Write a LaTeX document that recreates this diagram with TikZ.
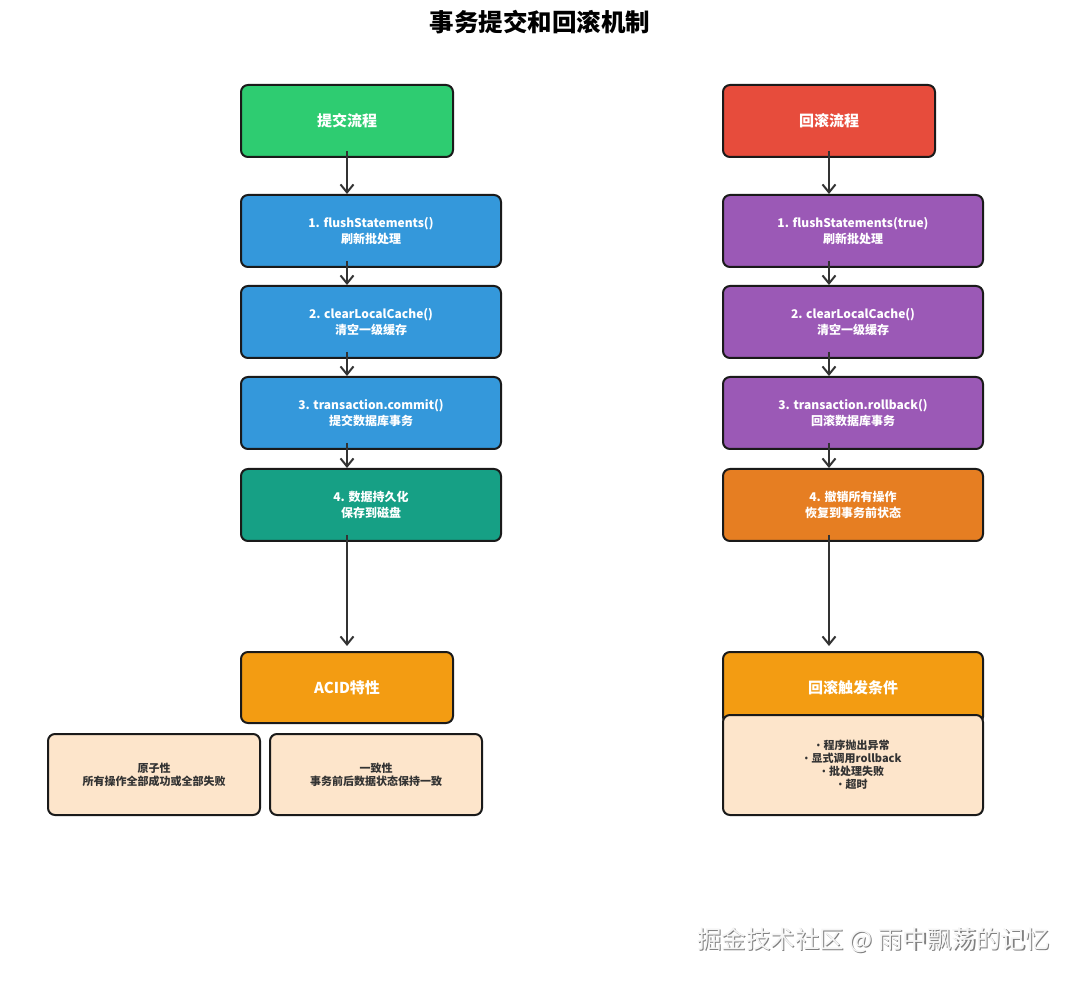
\documentclass[tikz,border=0pt]{standalone}
\usepackage{fontspec}
\setmainfont{Noto Sans CJK SC}
\newfontfamily\bulfont{Noto Sans}
\usetikzlibrary{arrows.meta,calc}
\definecolor{cgreen}{HTML}{2ECC71}
\definecolor{cred}{HTML}{E74C3C}
\definecolor{cblue}{HTML}{3498DB}
\definecolor{cpurple}{HTML}{9B59B6}
\definecolor{cteal}{HTML}{16A085}
\definecolor{corange}{HTML}{F39C12}
\definecolor{cdorange}{HTML}{E67E22}
\definecolor{cpeach}{HTML}{FDE5CB}
\definecolor{cline}{HTML}{1A1A1A}
\definecolor{carrow}{HTML}{333333}
\newcommand{\bul}{{\bulfont •}\kern3pt}
\tikzset{
  box/.style={draw=cline, line width=2pt, rounded corners=7pt, align=center,
    font=\bfseries\fontsize{12}{16}\selectfont, text=white, inner sep=2pt},
  headbox/.style={box, minimum width=212pt, minimum height=72pt, font=\bfseries\fontsize{15}{17}\selectfont},
  stepbox/.style={box, minimum width=260pt, minimum height=72pt},
  detbox/.style={box, fill=cpeach, text=carrow, font=\bfseries\fontsize{11}{13}\selectfont},
  arr/.style={draw=carrow, line width=2pt, -{Straight Barb[length=8pt,width=13pt,line width=2pt]}},
}
\begin{document}
\begin{tikzpicture}[x=1pt,y=-1pt]
\useasboundingbox[fill=white] (0,0) rectangle (1080,981);
\node[font=\bfseries\fontsize{24.5}{27}\selectfont] (title) at (540,22) {事务提交和回滚机制};

% left column
\node[headbox, fill=cgreen] (submit) at (347,121) {提交流程};
\node[stepbox, fill=cblue] (L1) at (371,231) {1. flushStatements()\\刷新批处理};
\node[stepbox, fill=cblue] (L2) at (371,322) {2. clearLocalCache()\\清空一级缓存};
\node[stepbox, fill=cblue] (L3) at (371,413) {3. transaction.commit()\\提交数据库事务};
\node[stepbox, fill=cteal] (L4) at (371,505) {4. 数据持久化\\保存到磁盘};
\node[headbox, fill=corange, minimum height=71pt] (acid) at (347,687.5) {ACID特性};
\node[detbox, minimum width=212pt, minimum height=81pt] (atom) at (154,774.5) {原子性\\所有操作全部成功或全部失败};
\node[detbox, minimum width=212pt, minimum height=81pt] (cons) at (376,774.5) {一致性\\事务前后数据状态保持一致};

% right column
\node[headbox, fill=cred] (rb) at (829,121) {回滚流程};
\node[stepbox, fill=cpurple] (R1) at (853,231) {1. flushStatements(true)\\刷新批处理};
\node[stepbox, fill=cpurple] (R2) at (853,322) {2. clearLocalCache()\\清空一级缓存};
\node[stepbox, fill=cpurple] (R3) at (853,413) {3. transaction.rollback()\\回滚数据库事务};
\node[stepbox, fill=cdorange] (R4) at (853,505) {4. 撤销所有操作\\恢复到事务前状态};
\node[stepbox, fill=corange, font=\bfseries\fontsize{15}{17}\selectfont] (trig) at (853,688) {回滚触发条件};
\node[detbox, minimum width=260pt, minimum height=100pt] (cond) at (853,765) {\bul 程序抛出异常\\\bul 显式调用rollback\\\bul 批处理失败\\\bul 超时};

% arrows left
\draw[arr] ([yshift=7pt]submit.south) -- (submit.south |- L1.north);
\draw[arr] ([yshift=7pt]submit.south |- L1.south) -- (submit.south |- L2.north);
\draw[arr] ([yshift=7pt]submit.south |- L2.south) -- (submit.south |- L3.north);
\draw[arr] ([yshift=7pt]submit.south |- L3.south) -- (submit.south |- L4.north);
\draw[arr] ([yshift=7pt]submit.south |- L4.south) -- ([yshift=5pt]acid.north);
% arrows right
\draw[arr] ([yshift=7pt]rb.south) -- (rb.south |- R1.north);
\draw[arr] ([yshift=7pt]rb.south |- R1.south) -- (rb.south |- R2.north);
\draw[arr] ([yshift=7pt]rb.south |- R2.south) -- (rb.south |- R3.north);
\draw[arr] ([yshift=7pt]rb.south |- R3.south) -- (rb.south |- R4.north);
\draw[arr] ([yshift=7pt]rb.south |- R4.south) -- ([yshift=5pt]rb.south |- trig.north);

% watermark
\node[text=black!50, font=\fontsize{24.5}{27}\selectfont] (wms) at (874.8,941.2) {掘金技术社区 @ 雨中飘荡的记忆};
\node[text=black!4, font=\fontsize{24.5}{27}\selectfont] (wm) at (873.5,939.8) {掘金技术社区 @ 雨中飘荡的记忆};
\end{tikzpicture}
\end{document}
